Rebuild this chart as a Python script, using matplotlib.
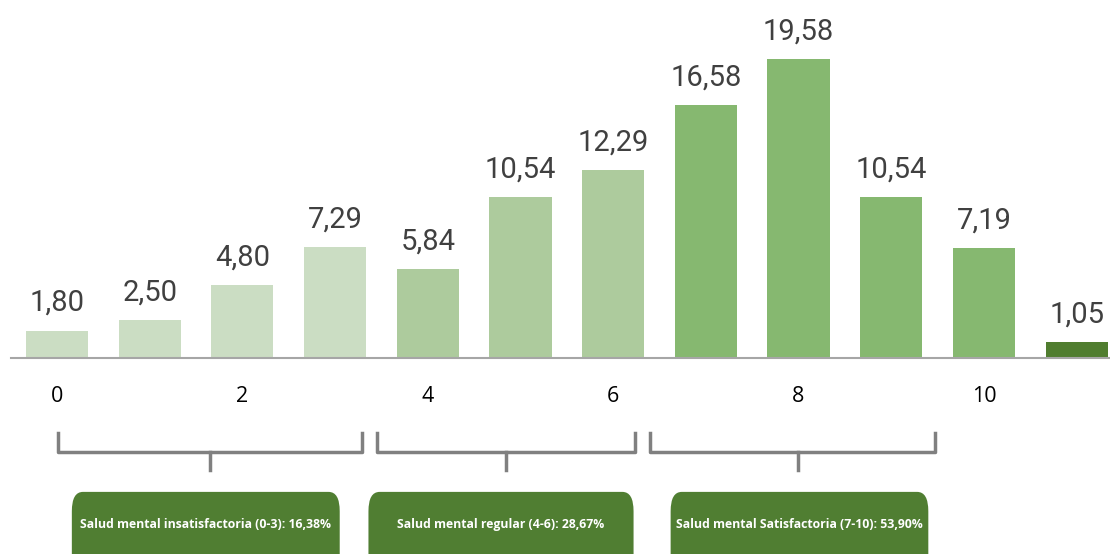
import matplotlib.pyplot as plt
from matplotlib.patches import FancyBboxPatch
from matplotlib.transforms import blended_transform_factory

# Données
categorias = list(range(12))
valores = [1.80, 2.50, 4.80, 7.29, 5.84, 10.54, 12.29, 16.58, 19.58, 10.54, 7.19, 1.05]
grupos = [0, 0, 0, 0, 1, 1, 1, 2, 2, 2, 2, 3]
ticks = [0, 2, 4, 6, 8, 10]
etiquetas_cajas = [
    "Salud mental insatisfactoria (0-3): 16,38%",
    "Salud mental regular (4-6): 28,67%",
    "Salud mental Satisfactoria (7-10): 53,90%",
]
# llaves : (inicio, fin, centro) en unidades de categoría
llaves = [(0.01, 3.29, 1.65), (3.45, 6.24, 4.84), (6.40, 9.47, 7.99)]
cajas = [(0.16, 3.05), (3.36, 6.22), (6.62, 9.40)]

colores = ["#CBDDC3", "#ADCB9D", "#86B870", "#507D2F"]

fig = plt.figure(figsize=(11.1, 5.54), dpi=100)
ax = fig.add_axes([0, 0.3538, 1, 0.6462])

barras = ax.bar(categorias, valores, width=0.67,
                color=[colores[g] for g in grupos], zorder=2)
for b, v in zip(barras, valores):
    ax.annotate(f"{v:.2f}".replace(".", ","),
                (b.get_x() + b.get_width() / 2, v),
                xytext=(0, 14), textcoords="offset points",
                ha="center", va="baseline", fontsize=21,
                family="Roboto", color="#404040")

ax.set_xlim(-0.615, 11.36)
ax.set_ylim(0, 23.44)
ax.set_xticks(ticks)
ax.set_xticklabels([str(t) for t in ticks], family="Open Sans", fontsize=15.5)
ax.tick_params(axis="x", length=0, pad=20)
ax.set_yticks([])
for s in ["top", "right", "left"]:
    ax.spines[s].set_visible(False)
ax.spines["bottom"].set_color("#A6A6A6")
ax.spines["bottom"].set_linewidth(1.5)
ax.spines["bottom"].set_bounds(-0.495, 11.36)

tr = blended_transform_factory(ax.transData, ax.transAxes)
for (x0, x1, xc) in llaves:
    ax.plot([x0, x0, x1, x1], [-0.2095, -0.2626, -0.2626, -0.2095],
            color="#808080", lw=2.5, transform=tr, clip_on=False,
            solid_joinstyle="round")
    ax.plot([xc, xc], [-0.2626, -0.3128], color="#808080", lw=2.5,
            transform=tr, clip_on=False)

for (x0, x1), txt in zip(cajas, etiquetas_cajas):
    caja = FancyBboxPatch((x0, -0.70), x1 - x0, 0.70 - 0.374,
                          boxstyle="round,pad=0,rounding_size=0.12",
                          transform=tr, clip_on=False,
                          facecolor="#507E32", edgecolor="none",
                          mutation_aspect=0.45)
    ax.add_patch(caja)
    ax.text((x0 + x1) / 2, -0.466, txt, transform=tr, ha="center",
            va="center", color="white", fontsize=8.8, fontweight="bold",
            family="Open Sans", clip_on=False)

fig.savefig("out.png", dpi=100)
